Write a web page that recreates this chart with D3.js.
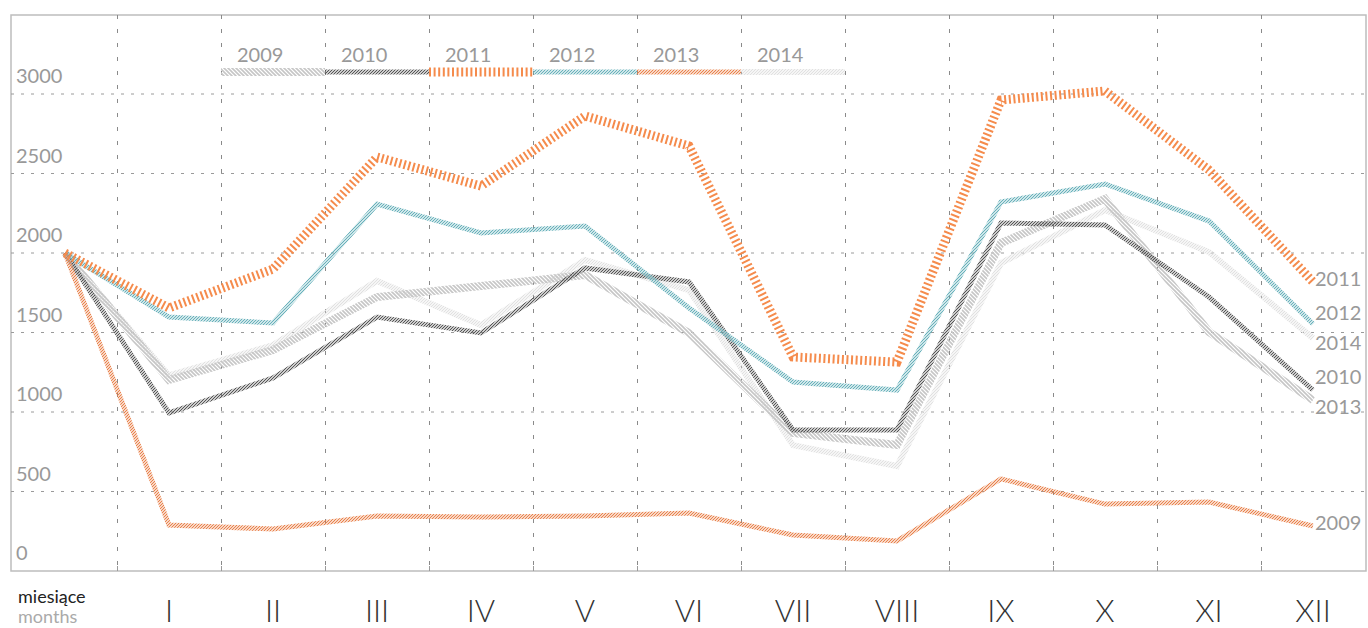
<!DOCTYPE html>
<html lang="pl">
<head>
<meta charset="UTF-8">
<title>miesiące</title>
<script src="https://d3js.org/d3.v7.min.js"></script>
<style>
  body { margin: 0; background: #fff; }
  text { font-family: Lato, "Open Sans", sans-serif; }
</style>
</head>
<body>
<div id="chart"></div>
<script>
// months and y ticks
var months = ["I", "II", "III", "IV", "V", "VI", "VII", "VIII", "IX", "X", "XI", "XII"];
var yTicks = [0, 500, 1000, 1500, 2000, 2500, 3000];
var years = ["2009", "2010", "2011", "2012", "2013", "2014"];
// label written at the right end of each line (as in the original)
var endLabels = ["2013", "2010", "2011", "2012", "2009", "2014"];
var startValue = 2000;

// values per month
var v2009 = [1201, 1390, 1723, 1792, 1862, 1497, 868, 792, 2063, 2340, 1503, 1075];
var v2010 = [994, 1214, 1597, 1497, 1906, 1818, 887, 887, 2189, 2176, 1723, 1138];
var v2011 = [1654, 1899, 2604, 2421, 2862, 2673, 1346, 1314, 2962, 3019, 2522, 1818];
var v2012 = [1597, 1560, 2308, 2126, 2170, 1654, 1189, 1138, 2321, 2434, 2201, 1553];
var v2013 = [289, 264, 346, 340, 346, 365, 226, 189, 579, 421, 434, 283];
var v2014 = [1230, 1421, 1824, 1547, 1956, 1767, 792, 660, 1937, 2270, 2006, 1465];
var values = [v2009, v2010, v2011, v2012, v2013, v2014];

var W = 1368, H = 628;
var svg = d3.select("#chart").append("svg")
  .attr("width", W).attr("height", H);

var x = d3.scaleLinear().domain([0, 12]).range([65, 1313]);
var y = d3.scaleLinear().domain([0, 3000]).range([571, 94]);

var frame = {left: 11, right: 1366, top: 15, bottom: 571};

// patterns for the hatched strokes
var defs = svg.append("defs");
var styles = {
  "2009": {color: "#c6c6c6", width: 8, hatch: "back", size: 4, lw: 1.6},
  "2010": {color: "#4d4d4d", width: 5, hatch: "fwd", size: 3, lw: 1.1},
  "2011": {color: "#f58b4c", width: 9, dash: "2,2.6"},
  "2012": {color: "#62aeb8", width: 5, hatch: "fwd", size: 3, lw: 1.2},
  "2013": {color: "#e87d45", width: 5, hatch: "fwd", size: 3, lw: 1.2},
  "2014": {color: "#e0e0e0", width: 6, hatch: "fwd", size: 3, lw: 1.2}
};

years.forEach(function(yr) {
  var s = styles[yr];
  if (!s.hatch) return;
  var n = s.size;
  var p = defs.append("pattern")
    .attr("id", "h" + yr)
    .attr("patternUnits", "userSpaceOnUse")
    .attr("width", n).attr("height", n);
  var d = s.hatch == "fwd"
    ? "M-1,1 l2,-2 M0," + n + " l" + n + ",-" + n + " M" + (n - 1) + "," + (n + 1) + " l2,-2"
    : "M-1," + (n - 1) + " l2,2 M0,0 l" + n + "," + n + " M" + (n - 1) + ",-1 l2,2";
  p.append("path").attr("d", d)
    .attr("stroke", s.color).attr("stroke-width", s.lw)
    .attr("stroke-linecap", "square");
});

// frame
svg.append("rect")
  .attr("x", frame.left).attr("y", frame.top)
  .attr("width", frame.right - frame.left).attr("height", frame.bottom - frame.top)
  .attr("fill", "none").attr("stroke", "#bdbdbd").attr("stroke-width", 1.5);

// horizontal grid
svg.append("g").selectAll("line")
  .data(yTicks.filter(function(d) { return d > 0; }))
  .enter().append("line")
    .attr("x1", frame.left).attr("x2", frame.right)
    .attr("y1", function(d) { return y(d); })
    .attr("y2", function(d) { return y(d); })
    .attr("stroke", "#9a9a9a").attr("stroke-width", 1)
    .attr("stroke-dasharray", "3,7");

// vertical grid, halfway between months
var half = d3.range(12).map(function(i) { return i + 0.5; });
svg.append("g").selectAll("line")
  .data(half)
  .enter().append("line")
    .attr("x1", function(d) { return Math.round(x(d)) + 0.5; })
    .attr("x2", function(d) { return Math.round(x(d)) + 0.5; })
    .attr("y1", frame.top).attr("y2", frame.bottom)
    .attr("stroke", "#8a8a8a").attr("stroke-width", 1)
    .attr("stroke-dasharray", "4,10");

// small ticks on the bottom edge
svg.append("g").selectAll("line")
  .data(half)
  .enter().append("line")
    .attr("x1", function(d) { return Math.round(x(d)) + 0.5; })
    .attr("x2", function(d) { return Math.round(x(d)) + 0.5; })
    .attr("y1", frame.bottom - 5).attr("y2", frame.bottom)
    .attr("stroke", "#9a9a9a");

// y labels
svg.append("g").selectAll("text")
  .data(yTicks)
  .enter().append("text")
    .attr("x", 16)
    .attr("y", function(d) { return y(d) - 11; })
    .attr("font-size", 20)
    .attr("fill", "#999")
    .text(function(d) { return d; });

// lines
var line = d3.line()
  .x(function(d, i) { return x(i); })
  .y(function(d) { return y(d); });

var drawOrder = ["2014", "2009", "2010", "2012", "2013", "2011"];
drawOrder.forEach(function(yr) {
  var s = styles[yr];
  var k = years.indexOf(yr);
  var pts = [startValue].concat(values[k]);
  svg.append("path")
    .datum(pts)
    .attr("d", line)
    .attr("fill", "none")
    .attr("stroke", s.hatch ? "url(#h" + yr + ")" : s.color)
    .attr("stroke-width", s.width)
    .attr("stroke-dasharray", s.dash || null)
    .attr("stroke-linejoin", "miter");
});

// legend
var legend = svg.append("g").selectAll("g")
  .data(years)
  .enter().append("g");
legend.append("path")
  .attr("d", function(d, i) {
    return "M" + x(1.5 + i) + "," + 72 + "H" + x(2.5 + i);
  })
  .attr("fill", "none")
  .attr("stroke", function(d) { return styles[d].hatch ? "url(#h" + d + ")" : styles[d].color; })
  .attr("stroke-width", function(d) { return styles[d].width; })
  .attr("stroke-dasharray", function(d) { return styles[d].dash || null; });
legend.append("text")
  .attr("x", function(d, i) { return x(1.5 + i) + 16; })
  .attr("y", 62)
  .attr("font-size", 20)
  .attr("fill", "#999")
  .text(function(d) { return d; });

// end labels, pushed apart when they overlap
var ends = years.map(function(yr, k) {
  return {text: endLabels[k], y: y(values[k][11]) + 4};
}).sort(function(a, b) { return a.y - b.y; });
for (var it = 0; it < 20; it++) {
  for (var j = 1; j < ends.length; j++) {
    var gap = ends[j].y - ends[j - 1].y;
    if (gap < 30) {
      var m = (30 - gap) / 2;
      ends[j].y += m;
      ends[j - 1].y -= m;
    }
  }
}
svg.append("g").selectAll("text")
  .data(ends)
  .enter().append("text")
    .attr("x", 1315)
    .attr("y", function(d) { return d.y; })
    .attr("font-size", 20)
    .attr("fill", "#999")
    .text(function(d) { return d.text; });

// x axis
svg.append("text")
  .attr("x", 18).attr("y", 603)
  .attr("font-size", 18).attr("fill", "#222")
  .text("miesiące");
svg.append("text")
  .attr("x", 18).attr("y", 623)
  .attr("font-size", 18).attr("fill", "#aaa")
  .text("months");
svg.append("g").selectAll("text")
  .data(months)
  .enter().append("text")
    .attr("x", function(d, i) { return x(i + 1); })
    .attr("y", 622)
    .attr("text-anchor", "middle")
    .attr("font-size", 31)
    .attr("font-weight", 300)
    .attr("fill", "#333")
    .text(function(d) { return d; });
</script>
</body>
</html>
